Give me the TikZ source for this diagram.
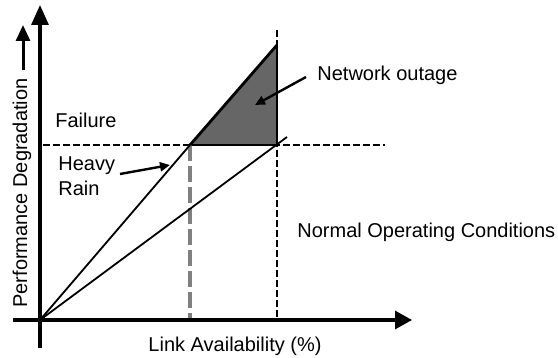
\documentclass[tikz,border=0pt]{standalone}
\usepackage{fontspec}
\setmainfont{Liberation Sans}
\usetikzlibrary{positioning,arrows.meta}

\begin{document}
\begin{tikzpicture}[x=0.5pt,y=-0.5pt,font=\fontsize{10}{12.5}\selectfont,
  axis/.style={line width=1.6pt},
  curve/.style={line width=0.9pt},
  level/.style={line width=1pt,dash pattern=on 3.5pt off 1.5pt},
  rainlevel/.style={line width=2.2pt,black!50,dash pattern=on 8pt off 2.5pt},
  pointer/.style={line width=1.2pt,-{Triangle[length=5pt,width=4.5pt]}},
  lbl/.style={inner sep=0pt}]
\useasboundingbox (0,0) rectangle (558,358);

% key points
\coordinate (O) at (40,320);
\coordinate (knee) at (190,145);
\coordinate (top) at (277,45);
\coordinate (corner) at (277,145);
\coordinate (tail) at (287,137);

% outage area
\fill[black!60] (knee) -- (top) -- (corner) -- cycle;
\draw[line width=1.3pt] (knee) -- (corner) -- (top);

% threshold lines
\coordinate (fl) at (43,145);
\coordinate (fr) at (385,145);
\draw[level] (fl) -- (fr);
\coordinate (vt) at (277,30);
\coordinate (vb) at (277,320);
\draw[level] (vt) -- (vb);
\coordinate (gb) at (190,318);
\draw[rainlevel] (knee) -- (gb);

% degradation lines
\draw[curve] (O) -- (knee);
\draw[line width=1.4pt] (knee) -- (top);
\draw[curve] (O) -- (tail);

% axes
\coordinate (yb) at (40,348);
\coordinate (yt) at (40,5);
\draw[axis,-{Triangle[length=10pt,width=8.5pt]}] (yb) -- (yt);
\coordinate (xl) at (13,320);
\coordinate (xr) at (412,320);
\draw[axis,-{Triangle[length=8.5pt,width=9pt]}] (xl) -- (xr);

% labels
\node[lbl,rotate=90] (ylab) at (22,193) {Performance Degradation};
\coordinate (ya) at (23,70);
\coordinate (yz) at (23,25);
\draw[line width=1.5pt,-{Triangle[length=8pt,width=7pt]}] (ya) -- (yz);
\node[lbl] (xlab) at (235,346) {Link Availability (\%)};

\node[lbl,anchor=west] (failure) at (55,120) {Failure};
\node[lbl,anchor=west,align=left] (rain) at (58,176) {Heavy\\Rain};
\node[lbl,anchor=west] (outage) at (317,75) {Network outage};
\node[lbl,anchor=west] (normal) at (297,232) {Normal Operating Conditions};

% pointers
\coordinate (ra) at (120,174);
\coordinate (rz) at (170,165);
\draw[pointer] (ra) -- (rz);
\coordinate (oa) at (306,77);
\coordinate (oz) at (255,105);
\draw[pointer] (oa) -- (oz);
\end{tikzpicture}
\end{document}
